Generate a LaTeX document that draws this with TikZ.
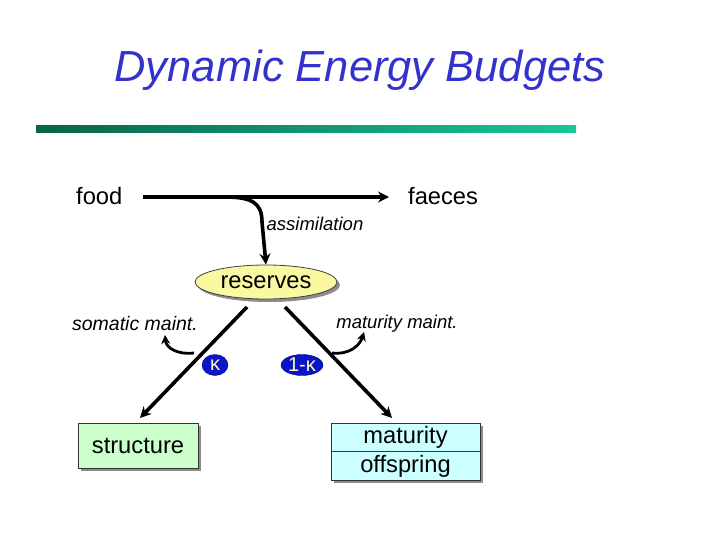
\documentclass[tikz,border=0pt]{standalone}
\usepackage{fontspec}
\setmainfont{Liberation Sans}
\usetikzlibrary{arrows.meta,shapes.geometric,shadows}
\definecolor{titleblue}{RGB}{51,51,204}
\definecolor{bardark}{RGB}{8,100,72}
\definecolor{barlight}{RGB}{26,196,156}
\definecolor{resfill}{RGB}{250,248,160}
\definecolor{strfill}{RGB}{204,255,204}
\definecolor{matfill}{RGB}{204,255,255}
\definecolor{kapfill}{RGB}{10,20,200}
\begin{document}
\begin{tikzpicture}[x=1pt,y=-1pt,
  flow/.style={line width=3.6pt,-{Stealth[length=11pt,width=11pt]}},
  side/.style={line width=2.8pt,-{Stealth[length=9pt,width=9pt]}},
  lbl/.style={font=\fontsize{23.7}{27}\selectfont,inner sep=0pt},
  ilbl/.style={font=\fontsize{18.5}{22}\selectfont\itshape,inner sep=0pt},
  shad/.style={drop shadow={fill=black!45,opacity=1,shadow xshift=3pt,shadow yshift=-3pt}},
  kap/.style={ellipse,fill=kapfill,draw=kapfill!60!black,text=yellow!30,inner sep=0pt,
     font=\fontsize{20}{22}\selectfont}]
\useasboundingbox (0,0) rectangle (720,540);
% title
\node[font=\fontsize{43.5}{50}\selectfont\itshape,text=titleblue] (title) at (360,70) {Dynamic Energy Budgets};
\shade[left color=bardark,right color=barlight] (36,126) rectangle (576,133);
% food line
\node[lbl,anchor=base west] (food) at (76,205) {food};
\node[lbl,anchor=base west] (faeces) at (408,205) {faeces};
\coordinate (fstart) at (143,197);
\coordinate (fend) at (389,197);
\coordinate (branch) at (225,197);
\draw[flow] (fstart) -- (fend);
\node[ilbl] (assim) at (315,224) {assimilation};
% reserves
\node[ellipse,draw=black!75,line width=0.8pt,fill=resfill,minimum width=142pt,minimum height=34pt,
  inner sep=0pt,shad,font=\fontsize{23.7}{27}\selectfont] (res) at (266,282) {reserves};
\draw[flow] (branch) .. controls (252,197) and (262,203) .. (262,222) -- (res.north);
% boxes
\node[draw=black!80,line width=0.8pt,fill=strfill,minimum width=120pt,minimum height=45pt,
  inner sep=0pt,shad,font=\fontsize{23.7}{27}\selectfont] (str) at (138,445.5) {structure};
\node[draw=black!80,line width=0.8pt,fill=matfill,minimum width=149pt,minimum height=57pt,
  inner sep=0pt,shad] (mat) at (405.5,451.5) {};
\draw[black!80,line width=0.8pt] (mat.west) -- (mat.east);
\node[lbl] (matu) at (405.5,437) {maturity};
\node[lbl] (offs) at (405.5,466) {offspring};
% main branches
\coordinate (lstart) at (247,307);
\coordinate (ltip) at (140,418);
\coordinate (rstart) at (285,307);
\coordinate (rtip) at (392,418);
\draw[flow] (lstart) -- (ltip);
\draw[flow] (rstart) -- (rtip);
% maintenance arrows
\coordinate (lmid) at (194,353);
\coordinate (ltipm) at (165,335);
\coordinate (rmid) at (332,353);
\coordinate (rtipm) at (364,332);
\draw[side] (lmid) .. controls (178,355) and (166,348) .. (ltipm);
\draw[side] (rmid) .. controls (350,355) and (360,345) .. (rtipm);
\node[ilbl,font=\fontsize{19.5}{22}\selectfont\itshape] (soma) at (135,324) {somatic maint.};
\node[ilbl] (matm) at (397,324) {maturity maint.};
% kappa
\node[kap,minimum width=26pt,minimum height=21pt] (k1) at (215,365) {κ};
\node[kap,minimum width=42pt,minimum height=21pt,inner xsep=-3pt] (k2) at (302,365) {1-κ};
\end{tikzpicture}
\end{document}
